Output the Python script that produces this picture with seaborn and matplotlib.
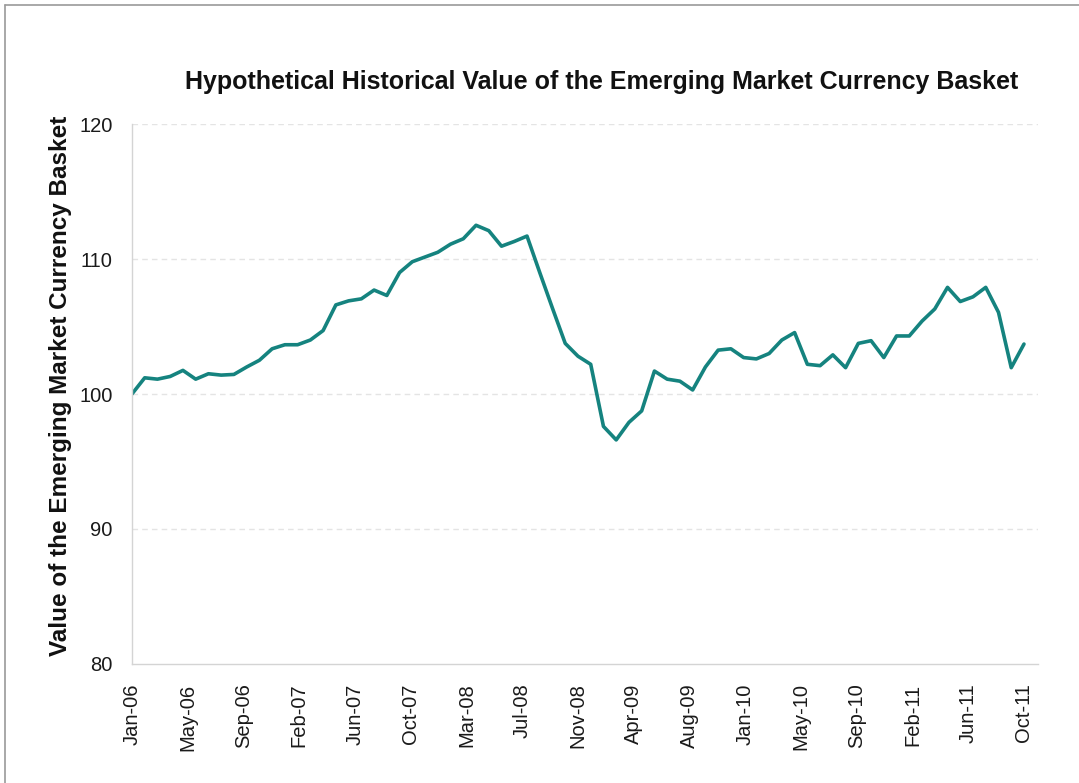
import matplotlib
matplotlib.use("Agg")
import matplotlib.pyplot as plt
import numpy as np
import pandas as pd
import seaborn as sns
from matplotlib.lines import Line2D

# Basket value, one point per period (71 points)
basket = [100.0, 101.2, 101.1, 101.3, 101.75, 101.1, 101.5, 101.4, 101.45, 102.0,
          102.5, 103.35, 103.65, 103.65, 104.0, 104.7, 106.6, 106.9, 107.05, 107.7,
          107.3, 109.0, 109.8, 110.15, 110.5, 111.1, 111.5, 112.5, 112.1, 110.95,
          111.3, 111.7, 109.0, 106.35, 103.75, 102.8, 102.2, 97.6, 96.6, 97.9,
          98.75, 101.7, 101.1, 100.95, 100.3, 102.0, 103.25, 103.35, 102.7, 102.6,
          103.0, 104.0, 104.55, 102.2, 102.1, 102.9, 101.95, 103.75, 103.95, 102.7,
          104.3, 104.3, 105.4, 106.3, 107.9, 106.85, 107.2, 107.9, 106.05, 101.95,
          103.7]
tick_labels = ["Jan-06", "May-06", "Sep-06", "Feb-07", "Jun-07", "Oct-07", "Mar-08",
               "Jul-08", "Nov-08", "Apr-09", "Aug-09", "Jan-10", "May-10", "Sep-10",
               "Feb-11", "Jun-11", "Oct-11"]
y_ticks = [80, 90, 100, 110, 120]

df = pd.DataFrame({"period": np.arange(len(basket)), "value": basket})

sns.set_style("white")
plt.rcParams["font.family"] = ["Liberation Sans", "DejaVu Sans"]

fig = plt.figure(figsize=(10.79, 7.83), dpi=100)
ax = fig.add_axes([0.1223, 0.152, 0.962 - 0.1223, 0.8416 - 0.152])

sns.lineplot(data=df, x="period", y="value", ax=ax, color="#15837f", linewidth=2.6)

ax.set_xlim(0, 71.1)
ax.set_ylim(80, 120)
ax.set_yticks(y_ticks)
ax.set_xticks(np.linspace(0, len(basket) - 1, len(tick_labels)))
ax.set_xticklabels(tick_labels, rotation=90)

# dashed light grid on the value axis
for v in y_ticks[1:]:
    ax.axhline(v, color="#e4e4e4", linestyle=(0, (4, 3)), linewidth=1.0, zorder=0)

for side in ["top", "right"]:
    ax.spines[side].set_visible(False)
for side in ["left", "bottom"]:
    ax.spines[side].set_color("#d4d4d4")
    ax.spines[side].set_linewidth(1.0)

ax.tick_params(axis="both", which="major", labelsize=14.5, colors="#d4d4d4",
               labelcolor="#1a1a1a", length=6, width=1.0, direction="out")
ax.tick_params(axis="x", pad=8)
ax.tick_params(axis="y", pad=8)

ax.set_xlabel("")
ax.set_ylabel("Value of the Emerging Market Currency Basket", fontsize=17.5,
              fontweight="bold", color="#111111")
ax.yaxis.set_label_coords(-0.066, 0.515)

fig.text(0.558, 0.8955, "Hypothetical Historical Value of the Emerging Market Currency Basket",
         ha="center", va="center", fontsize=18, fontweight="bold", color="#111111")

# thin grey frame along the top and left edges of the image
fig.add_artist(Line2D([0.005, 0.005], [0.0, 0.994], transform=fig.transFigure,
                      color="#9a9a9a", linewidth=1.2))
fig.add_artist(Line2D([0.005, 1.0], [0.994, 0.994], transform=fig.transFigure,
                      color="#9a9a9a", linewidth=1.2))

fig.savefig("out.png", dpi=100)
